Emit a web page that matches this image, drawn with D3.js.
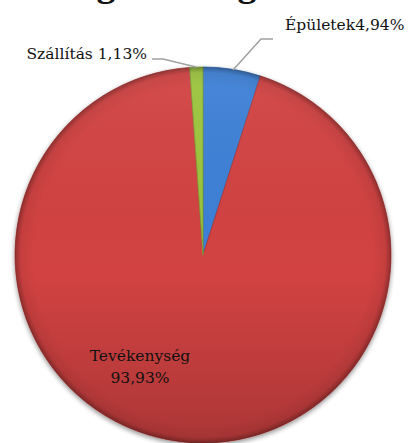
<!DOCTYPE html>
<html>
<head>
<meta charset="utf-8">
<script src="https://cdn.jsdelivr.net/npm/d3@7"></script>
<style>
  html, body { margin: 0; padding: 0; background: #fff; }
  svg { display: block; }
  text { font-family: "DejaVu Serif", "Liberation Serif", serif; fill: #111; }
</style>
</head>
<body>
<svg id="chart" width="411" height="443"></svg>
<script>
const categories = ["Épületek", "Tevékenység", "Szállítás"];
const values = [4.94, 93.93, 1.13];
const labels = ["Épületek4,94%", "Tevékenység\n93,93%", "Szállítás 1,13%"];
const colors = ["#3c80d6", "#d24343", "#9cc43e"];
const title = "Energiamérleg";

const svg = d3.select("#chart");
const cx = 203, cy = 255, r = 188;

const defs = svg.append("defs");

// soft shadow under pie
const shadow = defs.append("filter").attr("id", "shadow")
    .attr("x", "-10%").attr("y", "-10%").attr("width", "120%").attr("height", "120%");
shadow.append("feGaussianBlur").attr("in", "SourceAlpha").attr("stdDeviation", 2.5);
shadow.append("feOffset").attr("dy", 2).attr("result", "b");
shadow.append("feComponentTransfer").append("feFuncA").attr("type", "linear").attr("slope", 0.45);
const m = shadow.append("feMerge");
m.append("feMergeNode");
m.append("feMergeNode").attr("in", "SourceGraphic");

// top-to-bottom shading
const lin = defs.append("linearGradient").attr("id", "shade")
    .attr("x1", 0).attr("y1", 0).attr("x2", 0).attr("y2", 1);
lin.append("stop").attr("offset", "0%").attr("stop-color", "#fff").attr("stop-opacity", 0.06);
lin.append("stop").attr("offset", "55%").attr("stop-color", "#000").attr("stop-opacity", 0.0);
lin.append("stop").attr("offset", "100%").attr("stop-color", "#000").attr("stop-opacity", 0.18);

// edge ring (bevel)
const rad = defs.append("radialGradient").attr("id", "rim");
rad.append("stop").attr("offset", "90%").attr("stop-color", "#000").attr("stop-opacity", 0);
rad.append("stop").attr("offset", "97%").attr("stop-color", "#000").attr("stop-opacity", 0.06);
rad.append("stop").attr("offset", "100%").attr("stop-color", "#000").attr("stop-opacity", 0.3);

// title, cut off at the top as in the picture: only the g tails show
const t = svg.append("text")
    .attr("x", 0).attr("y", 40)
    .style("font-family", "'Liberation Serif', serif")
    .style("font-weight", "bold")
    .style("font-size", "34px")
    .text(title);
const n = t.node();
const g1 = n.getExtentOfChar(4), g2 = n.getExtentOfChar(12);
const d = (g2.x + g2.width / 2) - (g1.x + g1.width / 2);
const fs = 34 * 141 / d;
t.style("font-size", fs + "px");
const g1b = n.getExtentOfChar(4);
t.attr("x", 106 - (g1b.x + g1b.width / 2)).attr("y", -0.1 * fs);

const pie = d3.pie().sort(null).value(d => d)
    .startAngle(0).endAngle(2 * Math.PI);
const arc = d3.arc().innerRadius(0).outerRadius(r);
const arcs = pie(values);

const g = svg.append("g").attr("transform", `translate(${cx},${cy})`);
const slices = g.append("g").attr("filter", "url(#shadow)");
slices.selectAll("path")
    .data(arcs)
    .join("path")
    .attr("d", arc)
    .attr("fill", (d, i) => colors[i])
    .attr("stroke", (d, i) => d3.color(colors[i]).darker(0.6))
    .attr("stroke-width", 0.8);

g.append("circle").attr("r", r).attr("fill", "url(#shade)").attr("pointer-events", "none");
g.append("circle").attr("r", r).attr("fill", "url(#rim)").attr("pointer-events", "none");

// leader lines
const lines = [
    [[273, 39], [261, 39], [233, 70]],
    null,
    [[152, 59], [163, 59], [196, 67]]
];
svg.selectAll("path.leader")
    .data(lines.filter(l => l))
    .join("path")
    .attr("class", "leader")
    .attr("d", d3.line())
    .attr("fill", "none")
    .attr("stroke", "#a0a0a0")
    .attr("stroke-width", 1.5);

// labels
svg.append("text").attr("x", 285).attr("y", 30)
    .style("font-size", "15.5px").text(labels[0]);
svg.append("text").attr("x", 147).attr("y", 59).attr("text-anchor", "end")
    .style("font-size", "15.5px").text(labels[2]);
const lab = svg.append("text").attr("text-anchor", "middle").style("font-size", "15.5px");
labels[1].split("\n").forEach((s, i) => {
    lab.append("tspan").attr("x", 140).attr("y", 361 + i * 22).text(s);
});
</script>
</body>
</html>
